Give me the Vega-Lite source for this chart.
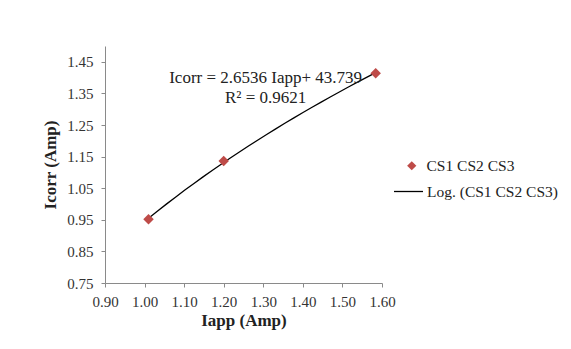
{
  "$schema": "https://vega.github.io/schema/vega-lite/v6.json",
  "width": 277,
  "height": 237,
  "autosize": "none",
  "padding": {"left": 105, "top": 46, "right": 189, "bottom": 66},
  "background": "white",
  "config": {
    "view": {"stroke": null},
    "font": "Liberation Serif",
    "axis": {
      "grid": false,
      "domainColor": "#8a8a8a",
      "tickColor": "#8a8a8a",
      "tickSize": 4,
      "tickCount": 20,
      "labelOverlap": false,
      "labelFlush": false,
      "labelFont": "Liberation Serif",
      "labelFontSize": 15,
      "labelColor": "#333333",
      "titleFont": "Liberation Serif",
      "titleFontSize": 17,
      "titleFontWeight": "bold",
      "titleColor": "#222222"
    },
    "legend": {
      "labelFont": "Liberation Serif",
      "labelFontSize": 15.5,
      "labelColor": "#222222"
    }
  },
  "datasets": {
    "pts": [
      {"Iapp": 1.01, "Icorr": 0.952, "series": "CS1 CS2 CS3"},
      {"Iapp": 1.20, "Icorr": 1.136, "series": "CS1 CS2 CS3"},
      {"Iapp": 1.584, "Icorr": 1.414, "series": "CS1 CS2 CS3"}
    ],
    "notes": [
      {"Iapp": 1.306, "Icorr": 1.400, "label": "Icorr = 2.6536 Iapp+ 43.739"},
      {"Iapp": 1.306, "Icorr": 1.337, "label": "R² = 0.9621"}
    ]
  },
  "layer": [
    {
      "data": {"name": "pts"},
      "transform": [
        {"regression": "Icorr", "on": "Iapp", "method": "log"}
      ],
      "mark": {"type": "line", "strokeWidth": 1.3, "clip": false},
      "encoding": {
        "x": {"field": "Iapp", "type": "quantitative"},
        "y": {"field": "Icorr", "type": "quantitative"},
        "stroke": {
          "datum": "Log. (CS1 CS2 CS3)",
          "type": "nominal",
          "scale": {"range": ["#000000"]},
          "legend": {
            "title": null,
            "orient": "none",
            "legendX": 288,
            "legendY": 130,
            "symbolType": "stroke",
            "symbolSize": 840,
            "symbolStrokeWidth": 1.3,
            "labelOffset": 3
          }
        }
      }
    },
    {
      "data": {"name": "pts"},
      "mark": {"type": "point", "shape": "diamond", "filled": true, "size": 110, "opacity": 1},
      "encoding": {
        "x": {
          "field": "Iapp",
          "type": "quantitative",
          "title": "Iapp (Amp)",
          "scale": {"domain": [0.9, 1.6], "zero": false, "nice": false},
          "axis": {
            "values": [0.9, 1.0, 1.1, 1.2, 1.3, 1.4, 1.5, 1.6],
            "tickCount": 20,
            "format": ".2f",
            "labelFlush": false,
            "labelPadding": 7,
            "titlePadding": 3
          }
        },
        "y": {
          "field": "Icorr",
          "type": "quantitative",
          "title": "Icorr (Amp)",
          "scale": {"domain": [0.75, 1.5], "zero": false, "nice": false},
          "axis": {
            "values": [0.75, 0.85, 0.95, 1.05, 1.15, 1.25, 1.35, 1.45],
            "tickCount": 20,
            "format": ".2f",
            "labelFlush": false,
            "labelPadding": 8,
            "titlePadding": 7
          }
        },
        "color": {
          "field": "series",
          "type": "nominal",
          "scale": {"range": ["#BE4B48"]},
          "legend": {
            "title": null,
            "orient": "none",
            "legendX": 299,
            "legendY": 112,
            "symbolType": "diamond",
            "symbolSize": 85,
            "labelOffset": 7
          }
        }
      }
    },
    {
      "data": {"name": "notes"},
      "mark": {"type": "text", "fontSize": 17, "font": "Liberation Serif", "color": "#222222"},
      "encoding": {
        "x": {"field": "Iapp", "type": "quantitative"},
        "y": {"field": "Icorr", "type": "quantitative"},
        "text": {"field": "label"}
      }
    }
  ],
  "resolve": {"scale": {"color": "independent", "stroke": "independent"}}
}
